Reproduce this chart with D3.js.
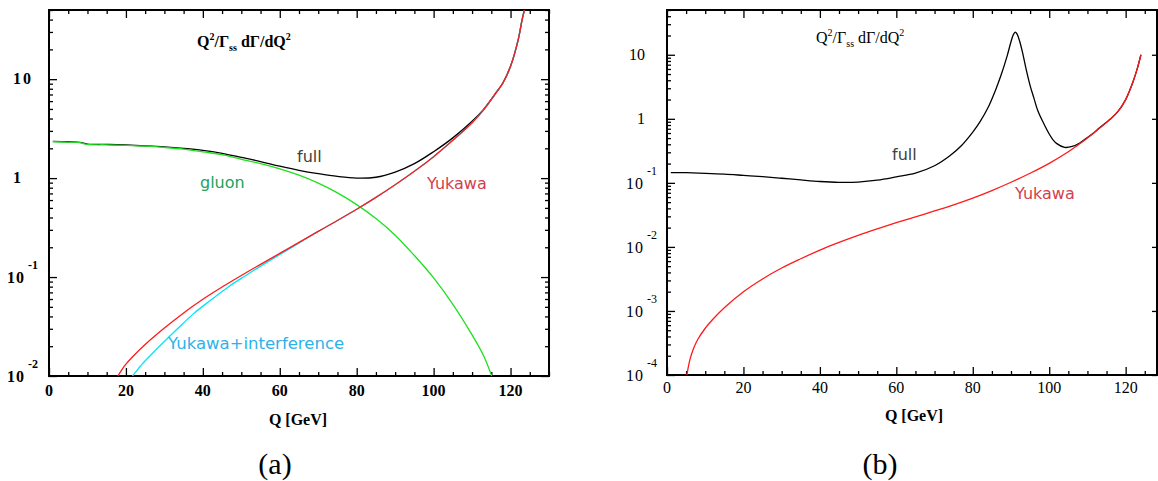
<!DOCTYPE html>
<html>
<head>
<meta charset="utf-8">
<script src="https://cdnjs.cloudflare.com/ajax/libs/d3/7.8.5/d3.min.js"></script>
<style>
body { margin: 0; background: white; }
</style>
</head>
<body>
<svg id="mysvg" width="1158" height="481"></svg>
<script>
// ---- panel (a) ----
let fullQ_a    = [1, 5, 8, 10, 15, 20, 25, 30, 35, 40, 45, 50, 55, 60, 65, 70, 75, 80, 85, 90, 95, 100, 105, 110, 113, 116, 118, 120, 122, 123, 123.6];
let full_a     = [2.35, 2.33, 2.30, 2.21, 2.19, 2.16, 2.12, 2.07, 2.0, 1.91, 1.78, 1.62, 1.47, 1.32, 1.20, 1.11, 1.04, 1.0, 1.02, 1.15, 1.40, 1.85, 2.55, 3.75, 4.95, 7.1, 9.15, 13.5, 25.1, 39.8, 50];

let gluonQ_a   = [1, 5, 8, 10, 15, 20, 25, 30, 35, 40, 45, 50, 55, 60, 65, 70, 75, 80, 85, 90, 95, 100, 105, 110, 113, 115.1];
let gluon_a    = [2.33, 2.31, 2.28, 2.19, 2.17, 2.14, 2.10, 2.04, 1.96, 1.84, 1.73, 1.55, 1.40, 1.24, 1.07, 0.89, 0.71, 0.54, 0.39, 0.265, 0.165, 0.098, 0.053, 0.026, 0.016, 0.01];

let yukawaQ_a  = [17.9, 19, 20, 22, 25, 30, 35, 40, 45, 50, 55, 60, 65, 70, 75, 80, 85, 90, 95, 100, 105, 110, 113, 116, 118, 120, 122, 123, 123.6];
let yukawa_a   = [0.01, 0.01169, 0.01318, 0.01603, 0.0208, 0.0305, 0.0434, 0.0596, 0.0793, 0.1038, 0.1343, 0.1734, 0.2239, 0.2891, 0.3733, 0.4842, 0.6383, 0.857, 1.172, 1.648, 2.41, 3.63, 4.90, 7.08, 9.12, 13.5, 25.1, 39.8, 50];

let yukintQ_a  = [21.7, 23.1, 24.2, 26.3, 29.2, 33.6, 37.6, 42, 46.6, 51.2, 55.8, 60.5, 65.25, 70, 75, 80, 85, 90, 95, 100, 105, 110, 113, 116, 118, 120, 122, 123, 123.6];
let yukint_a   = [0.01, 0.01169, 0.01318, 0.01603, 0.0208, 0.0305, 0.0427, 0.0582, 0.0794, 0.1038, 0.1343, 0.1734, 0.2239, 0.2891, 0.3733, 0.4842, 0.6383, 0.857, 1.172, 1.648, 2.41, 3.63, 4.90, 7.08, 9.12, 13.5, 25.1, 39.8, 50];

// ---- panel (b) ----
let fullQ_b    = [1, 5, 10, 15, 20, 25, 30, 35, 40, 45, 50, 55, 60, 65, 70, 74, 77, 80, 82, 84, 86, 87.5, 89, 90, 90.6, 91.1, 91.6, 92.3, 93, 94, 95, 96, 97, 98.5, 100, 101, 102, 104, 106, 108, 110, 112, 113, 116, 118, 120, 121, 122, 123, 124];
let full_b     = [0.145, 0.144, 0.141, 0.137, 0.131, 0.125, 0.118, 0.111, 0.105, 0.102, 0.103, 0.110, 0.124, 0.142, 0.185, 0.265, 0.38, 0.62, 0.92, 1.5, 2.85, 5.0, 9.6, 16, 20.5, 22.6, 21, 16, 11, 5.8, 3.3, 2.1, 1.35, 0.86, 0.58, 0.47, 0.41, 0.358, 0.37, 0.42, 0.51, 0.63, 0.71, 0.99, 1.303, 1.995, 2.723, 3.89, 5.957, 10];

let yukawaQ_b  = [5.2, 6, 7, 8, 10, 12, 15, 20, 25, 30, 35, 40, 45, 50, 55, 60, 65, 70, 75, 80, 85, 90, 95, 100, 105, 110, 113, 116, 118, 120, 121, 122, 123, 124];
let yukawa_b   = [0.0001, 0.0001738, 0.000263, 0.0003548, 0.000537, 0.000741, 0.001122, 0.001995, 0.003162, 0.004677, 0.00653, 0.00891, 0.01175, 0.01514, 0.01914, 0.02388, 0.02951, 0.03639, 0.04539, 0.05781, 0.07586, 0.1023, 0.1413, 0.2018, 0.3055, 0.5012, 0.6998, 0.9886, 1.303, 1.995, 2.723, 3.89, 5.957, 10];

let xTicks = [0, 20, 40, 60, 80, 100, 120];
let decadesA = [0.01, 0.1, 1, 10];
let decadesB = [0.0001, 0.001, 0.01, 0.1, 1, 10];

function zip(qs, vs)
{
    return qs.map((q, i) => ({q: q, v: vs[i]}));
}

function drawPanel(svg, p)
{
    let x = d3.scaleLinear().domain(p.xdom).range([p.left, p.right]);
    let y = d3.scaleLog().domain(p.ydom).range([p.bottom, p.top]);
    let g = svg.append("g");

    let clipId = "clip" + p.name;
    svg.append("clipPath").attr("id", clipId)
        .append("rect")
        .attr("x", p.left).attr("y", p.top)
        .attr("width", p.right - p.left).attr("height", p.bottom - p.top);

    // minor / major ticks, all pointing inward
    let minorX = d3.range(0, p.xdom[1] + 0.01, 5).filter(v => v % 20 != 0);
    let minorY = [];
    p.decades.forEach(d => { for (let k = 2; k <= 9; ++k) if (d * k <= p.ydom[1]) minorY.push(d * k); });

    g.append("g").attr("transform", "translate(0," + p.bottom + ")")
        .call(d3.axisBottom(x).tickValues(xTicks).tickSize(-8).tickFormat(""));
    g.append("g").attr("transform", "translate(0," + p.bottom + ")")
        .call(d3.axisBottom(x).tickValues(minorX).tickSize(-4).tickFormat(""));
    g.append("g").attr("transform", "translate(0," + p.top + ")")
        .call(d3.axisTop(x).tickValues(xTicks).tickSize(-8).tickFormat(""));
    g.append("g").attr("transform", "translate(0," + p.top + ")")
        .call(d3.axisTop(x).tickValues(minorX).tickSize(-4).tickFormat(""));

    g.append("g").attr("transform", "translate(" + p.left + ",0)")
        .call(d3.axisLeft(y).tickValues(p.decades).tickSize(-8).tickFormat(""));
    g.append("g").attr("transform", "translate(" + p.left + ",0)")
        .call(d3.axisLeft(y).tickValues(minorY).tickSize(-4).tickFormat(""));
    g.append("g").attr("transform", "translate(" + p.right + ",0)")
        .call(d3.axisRight(y).tickValues(p.decades).tickSize(p.rightMinor ? -8 : -5).tickFormat(""));
    if (p.rightMinor)
        g.append("g").attr("transform", "translate(" + p.right + ",0)")
            .call(d3.axisRight(y).tickValues(minorY).tickSize(-4).tickFormat(""));

    g.selectAll(".domain").remove();
    g.selectAll(".tick line").attr("stroke", "black").attr("stroke-width", 1.3);

    // frame
    g.append("rect")
        .attr("x", p.left).attr("y", p.top)
        .attr("width", p.right - p.left).attr("height", p.bottom - p.top)
        .attr("fill", "none").attr("stroke", "black").attr("stroke-width", 2);

    // x tick labels
    g.selectAll("text.xl").data(xTicks).enter()
        .append("text")
        .attr("class", "xl")
        .attr("x", d => x(d))
        .attr("y", p.bottom + p.xlabDy)
        .attr("text-anchor", "middle")
        .attr("font-family", "Liberation Serif")
        .attr("font-weight", p.weight)
        .attr("font-size", 16)
        .text(d => d);

    // y tick labels
    p.decades.forEach(d => {
        let e = Math.round(Math.log10(d));
        let yy = y(d);
        if (e >= 0)
        {
            g.append("text")
                .attr("x", p.ylabPlainX).attr("y", yy + 5)
                .attr("text-anchor", p.ylabPlainAnchor)
                .attr("letter-spacing", e == 1 ? p.tenSpacing : 0)
                .attr("font-family", "Liberation Serif")
                .attr("font-weight", p.weight)
                .attr("font-size", 16)
                .text(e == 0 ? "1" : "10");
        }
        else
        {
            g.append("text")
                .attr("x", p.ylabTenX).attr("y", yy + 6)
                .attr("letter-spacing", 1)
                .attr("font-family", "Liberation Serif")
                .attr("font-weight", p.weight)
                .attr("font-size", 16)
                .text("10");
            g.append("text")
                .attr("x", p.ylabSupX).attr("y", yy - 8)
                .attr("font-family", "Liberation Serif")
                .attr("font-weight", p.weight)
                .attr("font-size", 12)
                .text(e);
        }
    });

    // axis title
    g.append("text")
        .attr("x", p.xtitle[0]).attr("y", p.xtitle[1])
        .attr("text-anchor", "middle")
        .attr("font-family", "Liberation Serif")
        .attr("font-weight", "bold")
        .attr("font-size", 16)
        .text("Q [GeV]");

    // formula title
    let t = g.append("text")
        .attr("x", p.title[0]).attr("y", p.title[1])
        .attr("font-family", "Liberation Serif")
        .attr("font-weight", p.weight)
        .attr("font-size", 16);
    t.append("tspan").text("Q");
    t.append("tspan").attr("dy", -7).attr("font-size", 10).text("2");
    t.append("tspan").attr("dy", 7).text("/Γ");
    t.append("tspan").attr("dy", 4).attr("font-size", 10).text("ss");
    t.append("tspan").attr("dy", -4).text(" dΓ/dQ");
    t.append("tspan").attr("dy", -7).attr("font-size", 10).text("2");

    // curves
    let line = d3.line()
        .x(d => x(d.q))
        .y(d => y(d.v))
        .curve(d3.curveCatmullRom.alpha(0.5));

    let curves = svg.append("g").attr("clip-path", "url(#" + clipId + ")");
    curves.selectAll("path").data(p.series).enter()
        .append("path")
        .attr("d", d => line(d.pts))
        .attr("fill", "none")
        .attr("stroke", d => d.color)
        .attr("stroke-width", 1.3);

    // curve labels
    svg.selectAll("text.lab" + p.name).data(p.labels).enter()
        .append("text")
        .attr("class", "lab" + p.name)
        .attr("x", d => d.x).attr("y", d => d.y)
        .attr("font-family", "DejaVu Sans")
        .attr("font-size", d => d.size)
        .attr("fill", d => d.color)
        .text(d => d.text);

    // caption
    svg.append("text")
        .attr("x", p.caption[0]).attr("y", p.caption[1])
        .attr("text-anchor", "middle")
        .attr("font-family", "Liberation Serif")
        .attr("font-size", 30)
        .text(p.captionText);
}

let svg = d3.select("#mysvg");

drawPanel(svg, {
    name: "a",
    xdom: [0, 130], ydom: [0.01, 50],
    left: 49, right: 549, top: 10, bottom: 376,
    decades: decadesA, rightMinor: true,
    weight: "bold", xlabDy: 20,
    ylabPlainX: 13, ylabPlainAnchor: "start", tenSpacing: 2,
    ylabTenX: 7, ylabSupX: 28,
    xtitle: [298, 425], title: [197, 47],
    caption: [275, 474], captionText: "(a)",
    series: [
        {pts: zip(fullQ_a, full_a), color: "black"},
        {pts: zip(gluonQ_a, gluon_a), color: "#1ee01e"},
        {pts: zip(yukintQ_a, yukint_a), color: "#00e5ff"},
        {pts: zip(yukawaQ_a, yukawa_a), color: "#ff1a1a"}
    ],
    labels: [
        {text: "full", x: 297, y: 162, color: "#404040", size: 16},
        {text: "gluon", x: 200, y: 188, color: "#23a25c", size: 16},
        {text: "Yukawa", x: 427, y: 189, color: "#d2404f", size: 16},
        {text: "Yukawa+interference", x: 168, y: 349, color: "#2cb2ea", size: 16.5}
    ]
});

drawPanel(svg, {
    name: "b",
    xdom: [0, 128.2], ydom: [0.0001, 50],
    left: 667, right: 1157, top: 10, bottom: 375,
    decades: decadesB, rightMinor: false,
    weight: "normal", xlabDy: 18,
    ylabPlainX: 645, ylabPlainAnchor: "end", tenSpacing: 0,
    ylabTenX: 626, ylabSupX: 647,
    xtitle: [914, 421], title: [816, 43],
    caption: [880, 474], captionText: "(b)",
    series: [
        {pts: zip(fullQ_b, full_b), color: "black"},
        {pts: zip(yukawaQ_b, yukawa_b), color: "#ff1a1a"}
    ],
    labels: [
        {text: "full", x: 892, y: 160, color: "#404040", size: 16},
        {text: "Yukawa", x: 1015, y: 199, color: "#d2404f", size: 16}
    ]
});
</script>
</body>
</html>
